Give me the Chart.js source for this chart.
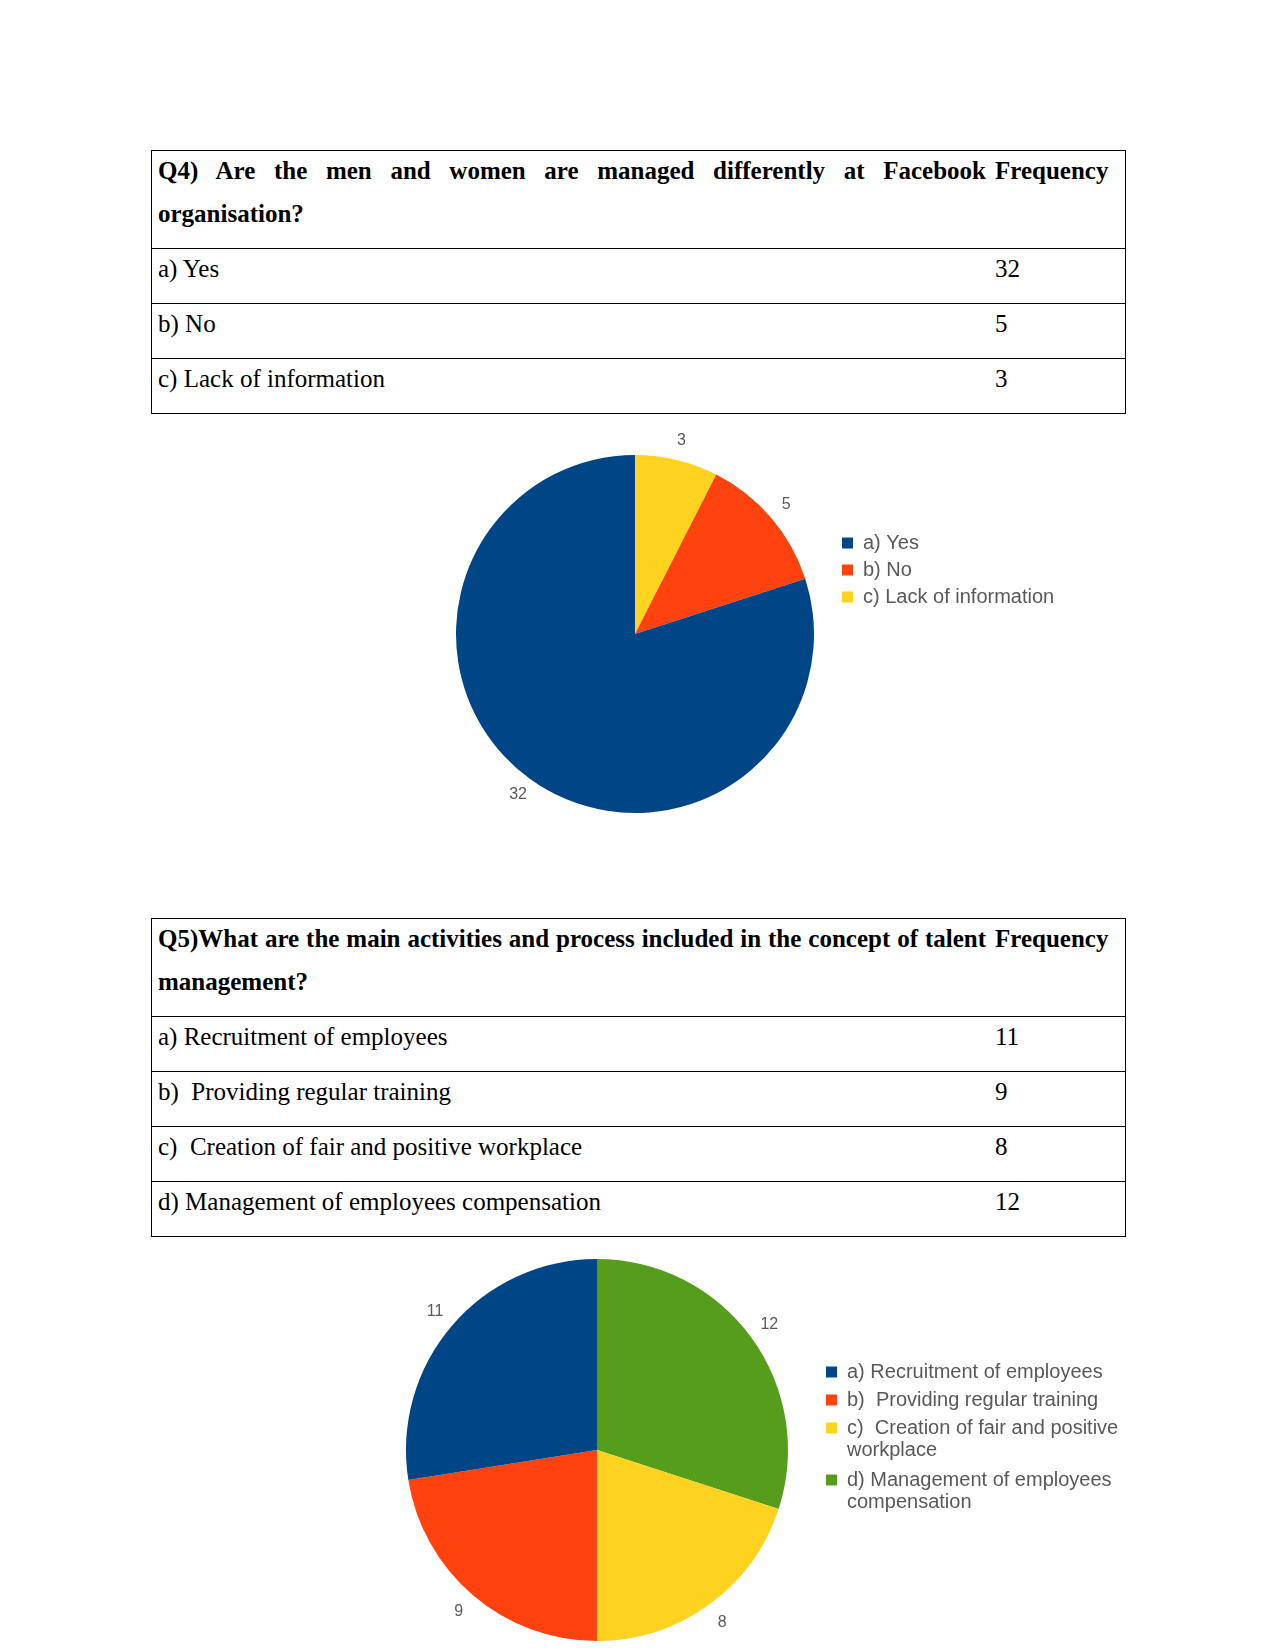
<!DOCTYPE html>
<html>
<head>
<meta charset="utf-8">
<script src="https://cdn.jsdelivr.net/npm/chart.js@4.4.1/dist/chart.umd.min.js"></script>
<style>
  html, body { margin: 0; padding: 0; background: #fff; }
  body { position: relative; width: 1275px; height: 1650px; overflow: hidden; }
  .tbl {
    position: absolute; left: 151px; width: 973px; border: 1px solid #000;
    font-family: "Liberation Serif", "Times New Roman", serif; font-size: 25px; color: #000;
  }
  .row { display: flex; }
  .row + .row { border-top: 1px solid #000; }
  .q { width: 837px; box-sizing: border-box; padding: 0 3px 13px 6px; }
  .f { flex: 1; padding: 0 0 13px 6px; }
  .q div, .f div { margin-top: -2px; line-height: 43px; }
  .head { font-weight: bold; }
  .head .q div { text-align: justify; }
  .item div { white-space: pre-wrap; }
  canvas { position: absolute; }
</style>
</head>
<body>
<div id="t4" class="tbl" style="top:150px"></div>
<canvas id="c4" width="700" height="420" style="left:435px; top:424px"></canvas>
<div id="t5" class="tbl" style="top:918px"></div>
<canvas id="c5" width="792" height="400" style="left:376px; top:1250px"></canvas>

<script>
const freqHeader = 'Frequency';

const q4Question = 'Q4) Are the men and women are managed differently at Facebook organisation?';
const q4Labels = ['a) Yes', 'b) No', 'c) Lack of information'];
const q4Values = [32, 5, 3];

const q5Question = 'Q5)What are the main activities and process included in the concept of talent management?';
const q5Labels = [
  'a) Recruitment of employees',
  'b)  Providing regular training',
  'c)  Creation of fair and positive workplace',
  'd) Management of employees compensation',
];
const q5Values = [11, 9, 8, 12];

// LibreOffice default chart colours
const PALETTE = ['#004586', '#ff420e', '#ffd320', '#579d1c'];
const TEXT_GREY = '#595959';
const SANS = '"Liberation Sans", Arial, sans-serif';
const LEGEND_FONT = '20px ' + SANS;
const BOX = 11;

const measureCtx = document.createElement('canvas').getContext('2d');
measureCtx.font = LEGEND_FONT;

function cell(cls, text) {
  const c = document.createElement('div');
  c.className = cls;
  const inner = document.createElement('div');
  inner.textContent = text;
  c.appendChild(inner);
  return c;
}

function buildTable(id, question, labels, values) {
  const host = document.getElementById(id);
  const head = document.createElement('div');
  head.className = 'row head';
  head.appendChild(cell('q', question));
  head.appendChild(cell('f', freqHeader));
  host.appendChild(head);
  labels.forEach((label, i) => {
    const row = document.createElement('div');
    row.className = 'row item';
    row.appendChild(cell('q', label));
    row.appendChild(cell('f', String(values[i])));
    host.appendChild(row);
  });
}

// wrap legend text into lines no wider than maxWidth
function wrapLabel(text, maxWidth) {
  const words = text.split(' ');
  const lines = [];
  let line = '';
  words.forEach((w) => {
    const test = line === '' ? w : line + ' ' + w;
    if (line !== '' && w !== '' && measureCtx.measureText(test).width > maxWidth) {
      lines.push(line);
      line = w;
    } else {
      line = test;
    }
  });
  lines.push(line);
  return lines.length === 1 ? lines[0] : lines;
}

// same width the legend computes for itself (padding + box + gap + text + 10)
function legendWidth(texts, gap) {
  let widest = 0;
  texts.forEach((t) => {
    const s = typeof t === 'string' ? t : t.reduce((a, b) => (a.length > b.length ? a : b));
    widest = Math.max(widest, measureCtx.measureText(s).width);
  });
  return gap + BOX + 10 + widest + 10;
}

// value labels just outside each slice
const sliceLabels = {
  id: 'sliceLabels',
  afterDatasetsDraw(chart, args, opts) {
    const { ctx } = chart;
    const meta = chart.getDatasetMeta(0);
    const values = chart.data.datasets[0].data;
    ctx.save();
    ctx.font = '16px ' + SANS;
    ctx.fillStyle = TEXT_GREY;
    ctx.textAlign = 'center';
    ctx.textBaseline = 'middle';
    meta.data.forEach((arc, i) => {
      const { x, y, startAngle, endAngle, outerRadius } =
        arc.getProps(['x', 'y', 'startAngle', 'endAngle', 'outerRadius'], true);
      const mid = (startAngle + endAngle) / 2;
      const r = outerRadius + opts.offset;
      ctx.fillText(String(values[i]), x + Math.cos(mid) * r, y + Math.sin(mid) * r);
    });
    ctx.restore();
  },
};

function makePie(id, labels, values, cfg) {
  const canvas = document.getElementById(id);
  const colors = PALETTE.slice(0, values.length);
  const texts = labels.map((t) => wrapLabel(t, cfg.wrapWidth));
  // legend should start at cfg.legendLeft (page x); canvas left comes from its style
  const canvasLeft = parseFloat(canvas.style.left);
  const padRight = Math.max(0, canvasLeft + canvas.width - cfg.legendLeft - legendWidth(texts, cfg.itemGap));

  // slices run counter-clockwise from 12 o'clock in the original, so feed them reversed
  new Chart(canvas, {
    type: 'pie',
    data: {
      labels: labels.slice().reverse(),
      datasets: [{
        data: values.slice().reverse(),
        backgroundColor: colors.slice().reverse(),
        borderWidth: 0,
        hoverOffset: 0,
        radius: cfg.radius,
      }],
    },
    options: {
      responsive: false,
      animation: false,
      layout: { padding: { right: padRight } },
      plugins: {
        tooltip: { enabled: false },
        sliceLabels: { offset: cfg.labelOffset },
        legend: {
          position: 'right',
          align: 'start',
          title: { display: true, text: '', padding: { top: cfg.legendTop, bottom: 0 }, font: { size: 10, lineHeight: 1 } },
          labels: {
            boxWidth: BOX,
            boxHeight: BOX,
            padding: cfg.itemGap,
            color: TEXT_GREY,
            font: { family: SANS, size: 20, lineHeight: 1.1 },
            generateLabels: () => texts.map((t, i) => ({
              text: t,
              fillStyle: colors[i],
              strokeStyle: colors[i],
              lineWidth: 0,
              hidden: false,
              fontColor: TEXT_GREY,
              index: labels.length - 1 - i,
            })),
          },
        },
      },
    },
    plugins: [sliceLabels],
  });
}

buildTable('t4', q4Question, q4Labels, q4Values);
buildTable('t5', q5Question, q5Labels, q5Values);

makePie('c4', q4Labels, q4Values, { radius: 179, labelOffset: 20, legendLeft: 835, legendTop: 92, itemGap: 7, wrapWidth: 1000 });
makePie('c5', q5Labels, q5Values, { radius: 191, labelOffset: 22, legendLeft: 818, legendTop: 94, itemGap: 8, wrapWidth: 290 });
</script>
</body>
</html>
